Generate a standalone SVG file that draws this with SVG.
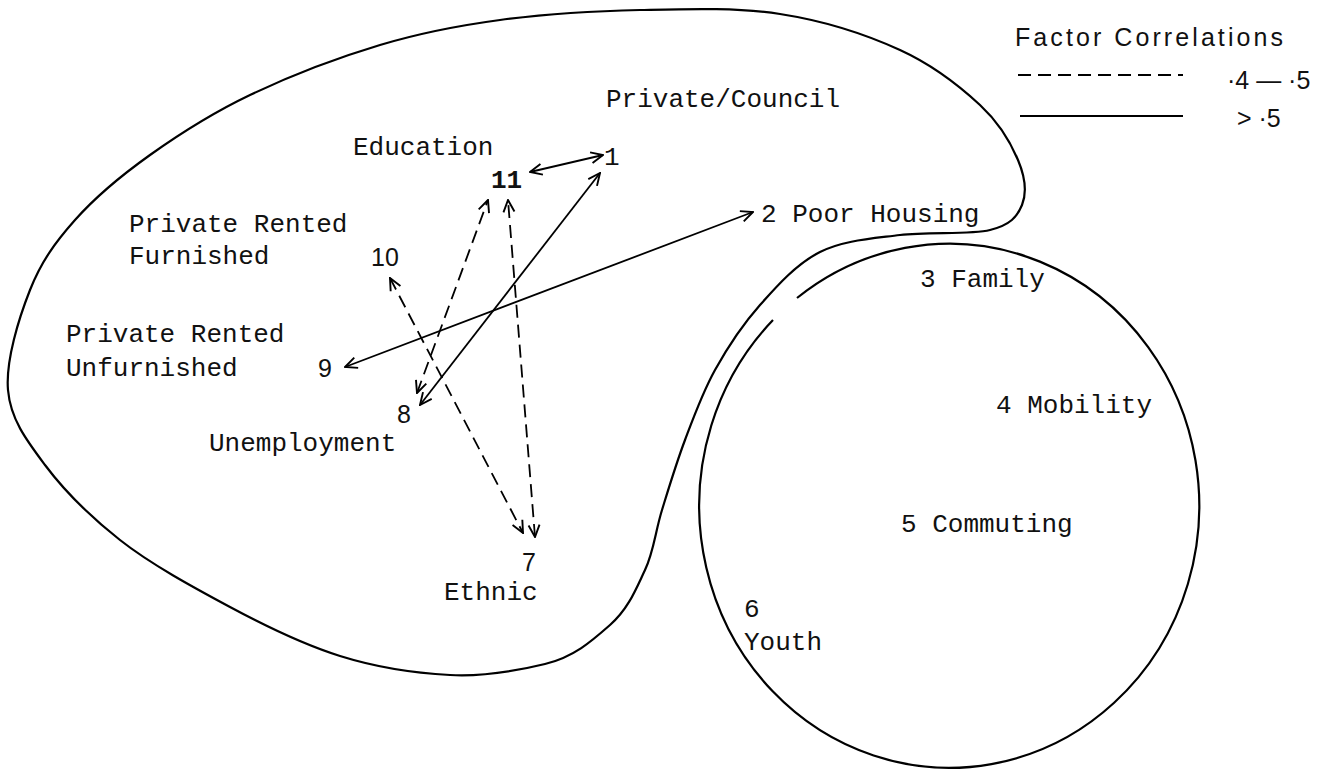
<svg xmlns="http://www.w3.org/2000/svg" width="1325" height="778" viewBox="0 0 1325 778">
<style>
.t{font-family:"Liberation Mono","DejaVu Sans Mono",monospace;font-size:26px;fill:#111}
.n{font-family:"Liberation Sans","DejaVu Sans",sans-serif;font-size:25px;fill:#111}
.lg{font-family:"Liberation Sans","DejaVu Sans",sans-serif;font-size:25px;fill:#111}
.outline{fill:none;stroke:#000;stroke-width:2.2;stroke-linejoin:round}
.c{fill:none;stroke:#000;stroke-width:1.8}
.d{stroke-dasharray:13 7}
</style>
<defs>
<marker id="ah" viewBox="0 0 14 14" refX="13" refY="7" markerWidth="14" markerHeight="14" markerUnits="userSpaceOnUse" orient="auto-start-reverse">
<path d="M1,1.5 L13,7 L1,12.5" fill="none" stroke="#000" stroke-width="1.9"/>
</marker>
</defs>
<rect width="1325" height="778" fill="#fff"/>
<g id="region-private-council">
<path class="outline" d="M 8,390 C 5.5,360.8 18.8,318.3 30,290 S 55,242.5 75,220 S 120.8,175.8 150,155 S 211.7,113.3 250,95 S 338.3,57.5 380,45 S 456.7,25.8 500,20 S 593.3,11 640,10 S 736.7,7.3 780,14 S 866.7,34.8 900,50 S 960.3,86.7 980,105 S 1011,143.3 1018,160 S 1026.7,193.3 1022,205 S 1010.3,225 990,230 S 928.3,231.3 900,235 S 843.3,240.3 820,252 S 777.5,285.3 760,305 S 727.5,347.5 715,370 S 693.8,416.7 685,440 S 668.7,488.3 662,510 S 653.7,551.7 645,570 S 628.7,608.5 610,625 S 573.7,657 545,664 S 484.2,676.8 450,675 S 376.7,667.5 340,656 S 266.7,626.7 230,607 S 150.8,564.3 120,540 S 63.7,490 45,465 S 10.5,419.2 8,390 Z"/>
<text class="t" x="606" y="107">Private/Council</text>
</g>
<g id="region-circle">
<path class="outline" stroke-width="1.9" d="M 797,298 A 250 262 0 1 1 773,320"/>
</g>
<g id="legend">
<text class="lg" x="1015" y="46" textLength="268" lengthAdjust="spacing">Factor Correlations</text>
<line class="c d" x1="1018" y1="75" x2="1183" y2="75"/>
<text class="lg" x="1227" y="89">·4 — ·5</text>
<line class="c" x1="1020" y1="116" x2="1183" y2="116"/>
<text class="lg" x="1237" y="127">&gt; ·5</text>
</g>
<g id="connectors">
<line class="c" x1="530" y1="172" x2="603" y2="155" marker-start="url(#ah)" marker-end="url(#ah)"/>
<line class="c" x1="420" y1="405" x2="600" y2="173" marker-start="url(#ah)" marker-end="url(#ah)"/>
<line class="c" x1="345" y1="367" x2="753" y2="212" marker-start="url(#ah)" marker-end="url(#ah)"/>
<line class="c d" x1="417" y1="393" x2="488" y2="200" marker-start="url(#ah)" marker-end="url(#ah)"/>
<line class="c d" x1="535" y1="537" x2="508" y2="200" marker-start="url(#ah)" marker-end="url(#ah)"/>
<line class="c d" x1="390" y1="278" x2="523" y2="533" marker-start="url(#ah)" marker-end="url(#ah)"/>
</g>
<g id="node-1"><text class="t" x="604" y="165">1</text></g>
<g id="node-2"><text class="t" x="761" y="222">2 Poor Housing</text></g>
<g id="node-3"><text class="t" x="920" y="287">3 Family</text></g>
<g id="node-4"><text class="t" x="996" y="413">4 Mobility</text></g>
<g id="node-5"><text class="t" x="901" y="532">5 Commuting</text></g>
<g id="node-6"><text class="t" x="744" y="617">6</text><text class="t" x="744" y="650">Youth</text></g>
<g id="node-7"><text class="n" x="522" y="571">7</text><text class="t" x="444" y="600">Ethnic</text></g>
<g id="node-8"><text class="n" x="397" y="423">8</text><text class="t" x="209" y="451">Unemployment</text></g>
<g id="node-9"><text class="n" x="318" y="377">9</text><text class="t" x="66" y="342">Private Rented</text><text class="t" x="66" y="376">Unfurnished</text></g>
<g id="node-10"><text class="n" x="371" y="266">10</text><text class="t" x="129" y="232">Private Rented</text><text class="t" x="129" y="264">Furnished</text></g>
<g id="node-11"><text class="t" x="491" y="188" font-weight="bold">11</text><text class="t" x="353" y="155">Education</text></g>
</svg>
